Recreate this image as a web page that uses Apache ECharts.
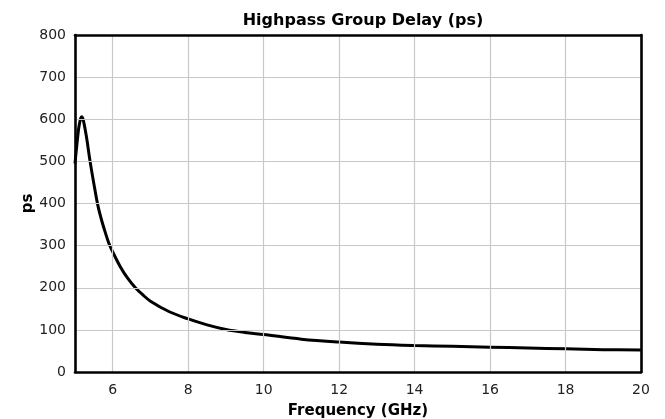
<!DOCTYPE html>
<html>
<head>
<meta charset="utf-8">
<script src="https://cdn.jsdelivr.net/npm/echarts@6/dist/echarts.min.js"></script>
<style>
  html, body { margin: 0; padding: 0; background: #fff; }
  #chart { width: 665px; height: 419px; }
</style>
</head>
<body>
<div id="chart"></div>
<script>
// frequency in GHz, group delay in ps
var freq = [5.0, 5.05, 5.1, 5.15, 5.18, 5.22, 5.3, 5.4, 5.5, 5.6, 5.7, 5.8, 5.9, 6.0,
            6.2, 6.4, 6.6, 6.8, 7.0, 7.5, 8.0, 8.5, 9.0, 9.5, 10, 11, 12, 13, 14, 15, 16, 17, 18, 19, 20];
var delay = [495, 540, 580, 602, 606, 598, 560, 500, 447, 398, 362, 332, 305, 285,
             250, 222, 200, 183, 168, 143, 126, 112, 101, 94, 89, 78, 71, 66, 63, 61, 59, 57, 55, 53, 52];
var xTicks = [6, 8, 10, 12, 14, 16, 18, 20];

var font = "'DejaVu Sans', sans-serif";
var frame = { show: true, onZero: false, lineStyle: { color: '#000', width: 2.6 } };
var chart = echarts.init(document.getElementById('chart'));

var option = {
    animation: false,
    title: {
        text: 'Highpass Group Delay (ps)',
        left: 358,
        textAlign: 'center',
        top: 8,
        textStyle: { fontFamily: font, fontWeight: 'bold', fontSize: 16, color: '#000' }
    },
    grid: { left: 75, right: 24, top: 35, bottom: 47, outerBoundsMode: 'none' },
    xAxis: [{
        type: 'value',
        min: 5,
        max: 20,
        name: 'Frequency (GHz)',
        nameLocation: 'middle',
        nameGap: 32,
        nameMoveOverlap: false,
        nameTextStyle: { fontFamily: font, fontWeight: 'bold', fontSize: 15, color: '#000' },
        axisLine: frame,
        axisTick: { show: false, customValues: xTicks },
        axisLabel: {
            customValues: xTicks,
            margin: 11,
            fontFamily: font, fontSize: 14, color: '#222'
        },
        splitLine: { show: true, lineStyle: { color: '#c8c8c8', width: 1.2 } },
        z: 5
    }, {
        type: 'value', position: 'top', min: 5, max: 20,
        axisLine: frame, axisTick: { show: false }, axisLabel: { show: false },
        splitLine: { show: false }, z: 5
    }],
    yAxis: [{
        type: 'value',
        min: 0,
        max: 800,
        interval: 100,
        name: 'ps',
        nameLocation: 'middle',
        nameGap: 39,
        nameMoveOverlap: false,
        nameTextStyle: { fontFamily: font, fontWeight: 'bold', fontSize: 15, color: '#000' },
        axisLine: frame,
        axisTick: { show: false },
        axisLabel: { margin: 9, fontFamily: font, fontSize: 14, color: '#222' },
        splitLine: { show: true, lineStyle: { color: '#c8c8c8', width: 1.2 } },
        z: 5
    }, {
        type: 'value', position: 'right', min: 0, max: 800,
        axisLine: frame, axisTick: { show: false }, axisLabel: { show: false },
        splitLine: { show: false }, z: 5
    }],
    series: [{
        type: 'line',
        data: freq.map(function (f, i) { return [f, delay[i]]; }),
        showSymbol: false,
        smooth: 0.35,
        clip: true,
        lineStyle: { color: '#000', width: 3 }
    }]
};
chart.setOption(option);
</script>
</body>
</html>
